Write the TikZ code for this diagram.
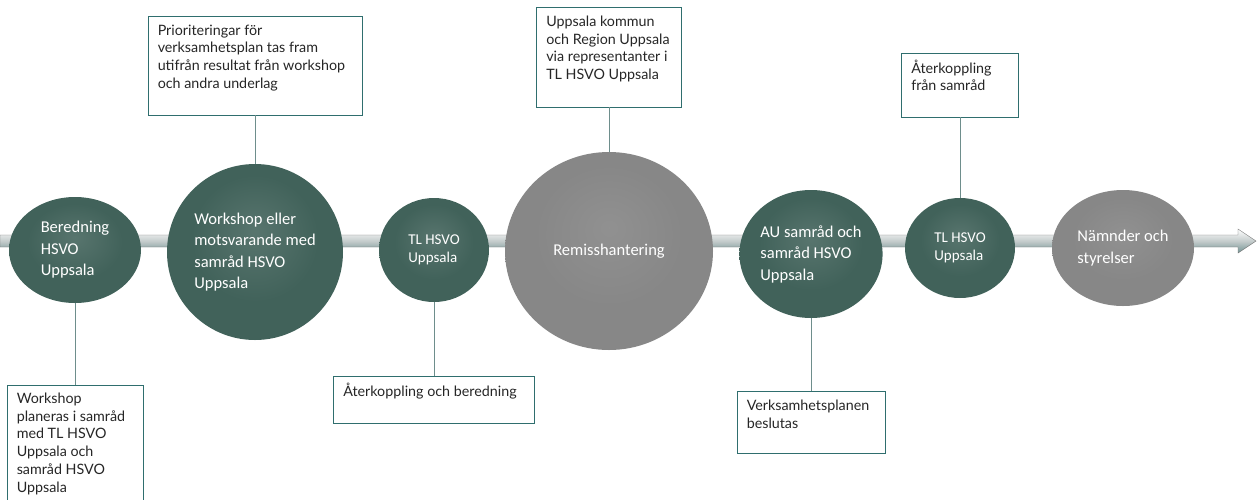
\documentclass[tikz,border=0pt]{standalone}
\usepackage{fontspec}
\setmainfont{Lato}
\newfontfamily\orbfont{Carlito}
\usepackage{xcolor}
\usetikzlibrary{shapes.geometric}

\definecolor{orbmid}{HTML}{41625A}
\definecolor{orbrim}{HTML}{2C4741}
\definecolor{greymid}{HTML}{878787}
\definecolor{greyrim}{HTML}{6A6A6A}
\definecolor{boxline}{HTML}{2F6E6E}
\definecolor{stemline}{HTML}{6E8E8C}
\definecolor{notetextcol}{HTML}{262626}
\pgfdeclareradialshading{greenorb}{\pgfpoint{0bp}{6bp}}{color(0bp)=(orbmid!88!white);color(18bp)=(orbmid);color(40bp)=(orbmid);color(50bp)=(orbrim)}
\pgfdeclareradialshading{greyorb}{\pgfpoint{0bp}{6bp}}{color(0bp)=(greymid!92!white);color(18bp)=(greymid);color(40bp)=(greymid);color(50bp)=(greyrim)}

\tikzset{
  orb/.style={ellipse, inner sep=0pt, text=white, align=left},
  greenball/.style={orb, shading=greenorb},
  greyball/.style={orb, shading=greyorb},
  bigtext/.style={font=\orbfont\fontsize{16.5}{21.5}\selectfont},
  smalltext/.style={font=\orbfont\fontsize{15}{17.5}\selectfont},
  notebox/.style={draw=boxline, line width=0.9pt, fill=white, inner sep=0pt},
  notetext/.style={anchor=north west, inner sep=0pt, align=left, text=notetextcol,
    font=\fontsize{14.3}{17.8}\selectfont},
  stem/.style={draw=stemline, line width=0.9pt}
}

\begin{document}
\begin{tikzpicture}[x=1pt,y=-1pt]
\useasboundingbox (0,0) rectangle (1259,499);
\clip (0,0) rectangle (1259,499);

\shade [draw=black!55, line width=0.4pt, top color=white, bottom color=teal!30!gray!85, middle color=teal!15!gray!40]
(0,235) -- (1238,235) -- (1238,229) -- (1256,241) -- (1238,253) -- (1238,247) -- (0,247) -- cycle;

\node [greenball, bigtext, minimum width=132, minimum height=106] (beredning) at (75,250) {Beredning\\HSVO\\Uppsala};
\node [greenball, bigtext, minimum width=176, minimum height=176] (workshop) at (255,252) {Workshop eller\\motsvarande med\\samråd HSVO\\Uppsala};
\node [greenball, smalltext, minimum width=110, minimum height=104] (tlone) at (434,250) {TL HSVO\\Uppsala};
\node [greyball, bigtext, minimum width=208, minimum height=198] (remiss) at (609,251) {Remisshantering};
\node [greenball, bigtext, minimum width=128, minimum height=128] (ausamrad) at (811,254) {AU samråd och\\samråd HSVO\\Uppsala};
\node [greenball, smalltext, minimum width=110, minimum height=100] (tltwo) at (960,248) {TL HSVO\\Uppsala};
\node [greyball, bigtext, minimum width=142, minimum height=116] (namnder) at (1123,248) {Nämnder och\\styrelser};

\node [notebox, minimum width=214, minimum height=99] (prionote) at (255,65.5) {};
\node [notetext] at ([shift={(10,9)}]prionote.north west) {Prioriteringar för\\verksamhetsplan tas fram\\utifrån resultat från workshop\\och andra underlag};
\node [notebox, minimum width=145, minimum height=100] (uppsnote) at (609,57) {};
\node [notetext] at ([shift={(10,9)}]uppsnote.north west) {Uppsala kommun\\och Region Uppsala\\via representanter i\\TL HSVO Uppsala};
\node [notebox, minimum width=117, minimum height=64] (aterfnote) at (960,85) {};
\node [notetext] at ([shift={(10,7)}]aterfnote.north west) {Återkoppling\\från samråd};
\node [notebox, minimum width=136, minimum height=130] (planote) at (75,450) {};
\node [notetext] at ([shift={(10,8)}]planote.north west) {Workshop\\planeras i samråd\\med TL HSVO\\Uppsala och\\samråd HSVO\\Uppsala};
\node [notebox, minimum width=201, minimum height=47] (aterbnote) at (434,399.5) {};
\node [notetext] at ([shift={(10,7)}]aterbnote.north west) {Återkoppling och beredning};
\node [notebox, minimum width=148, minimum height=62] (beslnote) at (811,422) {};
\node [notetext] at ([shift={(10,9)}]beslnote.north west) {Verksamhetsplanen\\beslutas};

\draw [stem] (prionote.south) -- (workshop.north);
\draw [stem] (uppsnote.south) -- (remiss.north);
\draw [stem] (aterfnote.south) -- (tltwo.north);
\draw [stem] (beredning.south) -- (planote.north);
\draw [stem] (tlone.south) -- (aterbnote.north);
\draw [stem] (ausamrad.south) -- (beslnote.north);
\end{tikzpicture}
\end{document}
